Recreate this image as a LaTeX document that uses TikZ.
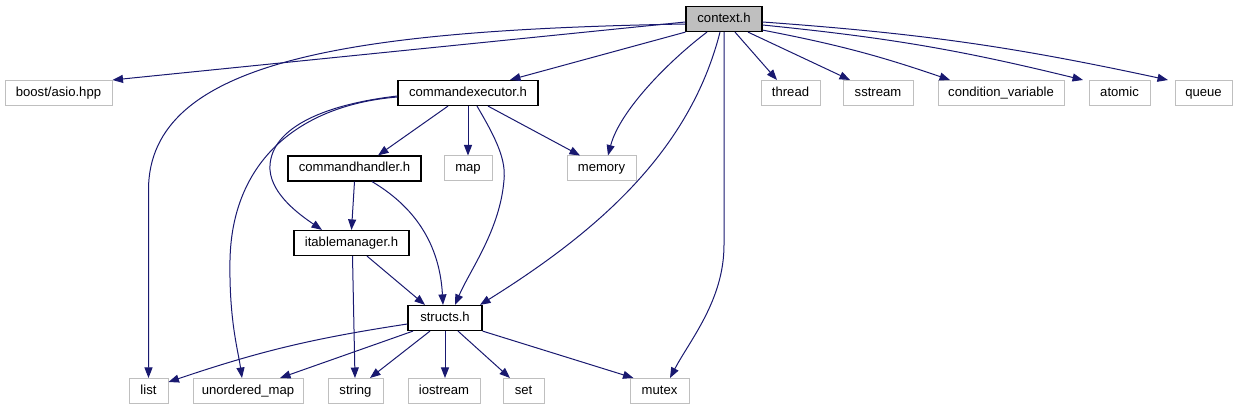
\documentclass[tikz,border=0pt]{standalone}
\usepackage{fontspec}
\setmainfont{Liberation Sans}
\usetikzlibrary{arrows.meta,calc}
\definecolor{edgeblue}{HTML}{191970}
\definecolor{graybd}{HTML}{BFBFBF}
\begin{document}
\begin{tikzpicture}[x=1pt,y=-1pt,
  box/.style={draw=black, line width=1.2pt, minimum height=25pt, inner sep=0pt, text height=9.6pt, text depth=2.8pt, font=\fontsize{13.1}{15}\selectfont, text=black},
  ext/.style={draw=graybd, line width=1pt, minimum height=25pt, inner sep=0pt, text height=9.6pt, text depth=2.8pt, font=\fontsize{13.1}{15}\selectfont, text=black},
  dep/.style={draw=edgeblue, line width=1pt, -{Triangle[length=10.5pt,width=8pt]}}]
\useasboundingbox (0,0) rectangle (1237,411);
% row 1
\node[box, fill=graybd, minimum width=76pt] (context) at (724,19) {context.h};
% row 2
\node[ext, minimum width=107pt] (boost) at (58.5,93) {boost/asio.hpp};
\node[box, minimum width=140pt] (cmdexec) at (468,93) {commandexecutor.h};
\node[ext, minimum width=59pt] (thread) at (790.5,93) {thread};
\node[ext, minimum width=70pt] (sstream) at (878,93) {sstream};
\node[ext, minimum width=126pt] (condvar) at (1001,93) {condition\_variable};
\node[ext, minimum width=61pt] (atomic) at (1119.5,93) {atomic};
\node[ext, minimum width=57pt] (queue) at (1203.5,93) {queue};
% row 3
\node[box, minimum width=133pt] (cmdhandler) at (354.5,168.5) {commandhandler.h};
\node[ext, minimum width=48pt] (map) at (468,168.5) {map};
\node[ext, minimum width=69pt] (memory) at (601.5,168.5) {memory};
% row 4
\node[box, minimum width=115pt] (itable) at (351.5,243) {itablemanager.h};
% row 5
\node[box, minimum width=74pt] (structs) at (445,318) {structs.h};
% row 6
\node[ext, minimum width=39pt] (list) at (148.5,391) {list};
\node[ext, minimum width=110pt] (umap) at (248,391) {unordered\_map};
\node[ext, minimum width=55pt] (string) at (355.5,391) {string};
\node[ext, minimum width=72pt] (iostream) at (444,391) {iostream};
\node[ext, minimum width=41pt] (set) at (523.5,391) {set};
\node[ext, minimum width=59pt] (mutex) at (659.5,391) {mutex};
% context edges
\draw[dep] ([yshift=-3pt]context.west) -- (boost.north east);
\draw[dep] ([yshift=-5pt]context.west) .. controls (350,30) and (148.5,60) .. (148.5,190) -- (list.north);
\draw[dep] (context.south west) -- ([xshift=42pt]cmdexec.north);
\draw[dep] ([xshift=-17pt]context.south) .. controls (670,60) and (620,110) .. ([xshift=6.5pt]memory.north);
\draw[dep] ([xshift=-4pt]context.south) .. controls (690,150) and (600,230) .. ([xshift=35pt]structs.north);
\draw[dep] (context.south) -- (724,245) .. controls (724,300) and (690,340) .. ([xshift=10.5pt]mutex.north);
\draw[dep] ([xshift=11pt]context.south) -- ([xshift=-13.5pt]thread.north);
\draw[dep] ([xshift=24pt]context.south) -- ([xshift=-28pt]sstream.north);
\draw[dep] ([yshift=2pt]context.south east) to[bend left=4] ([xshift=-51pt]condvar.north);
\draw[dep] ([yshift=-6pt]context.east) to[bend left=4] ([xshift=-36.5pt]atomic.north);
\draw[dep] ([yshift=-3pt]context.east) to[bend left=4] ([xshift=-35.5pt]queue.north);
% commandexecutor edges
\draw[dep] ([xshift=-20pt]cmdexec.south) -- ([xshift=23.5pt]cmdhandler.north);
\draw[dep] (cmdexec.south) -- (map.north);
\draw[dep] ([xshift=20pt]cmdexec.south) -- ([xshift=-21.5pt]memory.north);
\draw[dep] ([xshift=9pt]cmdexec.south) .. controls (497,140) and (506,160) .. (504,180) .. controls (500,230) and (470,270) .. ([xshift=10pt]structs.north);
\draw[dep] ([yshift=-3pt]cmdexec.west) .. controls (320,105) and (268,130) .. (270,170) .. controls (272,195) and (300,215) .. ([xshift=-29.5pt]itable.north);
\draw[dep] ([yshift=-4pt]cmdexec.west) .. controls (300,105) and (232,160) .. (230,260) .. controls (229,320) and (238,350) .. ([xshift=-6pt]umap.north);
% commandhandler edges
\draw[dep] (cmdhandler.south) -- (itable.north);
\draw[dep] ([xshift=17.5pt]cmdhandler.south) .. controls (420,210) and (440,250) .. ([xshift=-2pt]structs.north);
% itablemanager edges
\draw[dep] ([xshift=1pt]itable.south) -- ([xshift=-0.5pt]string.north);
\draw[dep] ([xshift=15.5pt]itable.south) -- ([xshift=-20pt]structs.north);
% structs edges
\draw[dep] ([yshift=-6pt]structs.west) to[bend right=5] ([yshift=9pt]list.east);
\draw[dep] ([xshift=-32pt]structs.south) -- ([xshift=32pt]umap.north);
\draw[dep] ([xshift=-15pt]structs.south) -- ([xshift=14.5pt]string.north);
\draw[dep] (structs.south) -- ([xshift=1pt]iostream.north);
\draw[dep] ([xshift=13pt]structs.south) -- ([xshift=-13.5pt]set.north);
\draw[dep] (structs.south east) -- ([xshift=-26pt]mutex.north);
\end{tikzpicture}
\end{document}
